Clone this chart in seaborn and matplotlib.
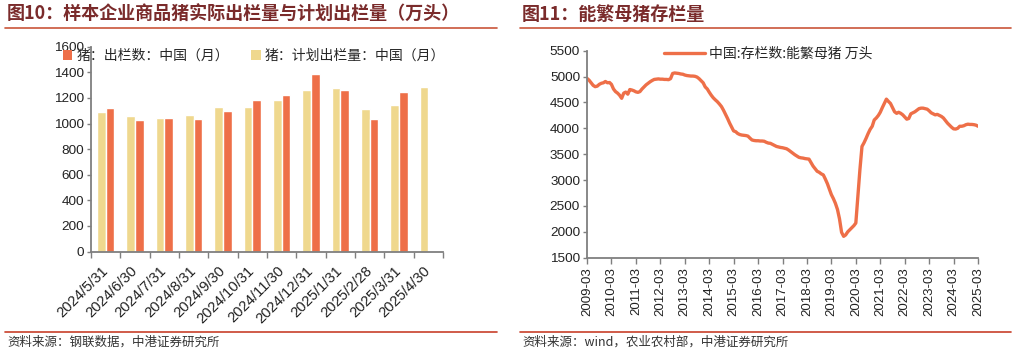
import numpy as np
import pandas as pd
import matplotlib
matplotlib.use('Agg')
import matplotlib.pyplot as plt
import matplotlib.transforms as mtransforms
from matplotlib.lines import Line2D
from matplotlib.patches import Patch
import seaborn as sns

# ---------------- data ----------------
categories = ['2024/5/31', '2024/6/30', '2024/7/31', '2024/8/31', '2024/9/30', '2024/10/31',
              '2024/11/30', '2024/12/31', '2025/1/31', '2025/2/28', '2025/3/31', '2025/4/30']
planned = [1088, 1062, 1041, 1067, 1132, 1132, 1184, 1262, 1278, 1116, 1145, 1288]
actual = [1124, 1026, 1044, 1036, 1098, 1182, 1223, 1385, 1260, 1033, 1247, np.nan]
actual_label = '猪：出栏数：中国（月）'
planned_label = '猪：计划出栏量：中国（月）'
bar_yticks = [0, 200, 400, 600, 800, 1000, 1200, 1400, 1600]

sow_start = '2009-03-01'
sow_end = '2025-03-01'
sow_values = [
    4965, 4930, 4880, 4830, 4805, 4815, 4850, 4870, 4880, 4905,              # 2009 Mar-Dec
    4880, 4885, 4850, 4760, 4710, 4680, 4640, 4580, 4680, 4700, 4660, 4750,  # 2010
    4740, 4725, 4705, 4695, 4710, 4760, 4800, 4840, 4870, 4900, 4925, 4945,  # 2011
    4950, 4955, 4950, 4950, 4945, 4945, 4940, 4960, 5060, 5070, 5065, 5060,  # 2012
    5050, 5045, 5030, 5020, 5015, 5010, 5010, 5005, 4990, 4960, 4920, 4880,  # 2013
    4800, 4760, 4700, 4640, 4590, 4550, 4515, 4470, 4420, 4350, 4270, 4190,  # 2014
    4100, 4020, 3950, 3935, 3900, 3880, 3870, 3865, 3860, 3850, 3810, 3775,  # 2015
    3765, 3760, 3760, 3755, 3755, 3750, 3730, 3715, 3710, 3690, 3670, 3650,  # 2016
    3640, 3630, 3625, 3615, 3605, 3580, 3550, 3520, 3490, 3465, 3440, 3430,  # 2017
    3425, 3415, 3410, 3405, 3340, 3270, 3220, 3170, 3150, 3120, 3100, 3020,  # 2018
    2930, 2820, 2720, 2640, 2550, 2430, 2250, 1990, 1913, 1940, 2000, 2040,  # 2019
    2080, 2120, 2170, 2700, 3200, 3650, 3720, 3806, 3900, 3980, 4040, 4161,  # 2020
    4200, 4250, 4310, 4400, 4480, 4564, 4520, 4480, 4400, 4320, 4290, 4310,  # 2021
    4290, 4260, 4220, 4177, 4190, 4280, 4300, 4320, 4350, 4380, 4390, 4390,  # 2022
    4380, 4370, 4340, 4300, 4280, 4260, 4270, 4250, 4230, 4200, 4150, 4100,  # 2023
    4060, 4020, 3990, 3986, 4000, 4040, 4040, 4050, 4070, 4080, 4075, 4075,  # 2024
    4070, 4060, 4040,                                                        # 2025 Jan-Mar
]
sow_label = '中国:存栏数:能繁母猪 万头'
line_yticks = [1500, 2000, 2500, 3000, 3500, 4000, 4500, 5000, 5500]

title_left = '图10：样本企业商品猪实际出栏量与计划出栏量（万头）'
title_right = '图11：能繁母猪存栏量'
source_left = '资料来源：钢联数据，中港证券研究所'
source_right = '资料来源：wind，农业农村部，中港证券研究所'

# ---------------- style ----------------
sns.set_style('ticks')
plt.rcParams['font.family'] = ['Liberation Sans', 'Noto Sans CJK SC', 'DejaVu Sans']
plt.rcParams['axes.unicode_minus'] = False

ORANGE = '#EE6F48'
YELLOW = '#EFD88E'
SPINE = '#7F7F7F'
TITLE_C = '#7A2B2B'
RULE_C = '#C9553A'
CJK = ['Noto Sans CJK SC', 'DejaVu Sans']

W, H = 1017, 354
fig = plt.figure(figsize=(W / 100, H / 100), dpi=100)

def fx(px):
    return px / W

def fy(py):
    return 1 - py / H

# ---------------- left: bars ----------------
ax1 = fig.add_axes([fx(91), fy(251.6), fx(443 - 91), (251.6 - 46.7) / H])
df = pd.DataFrame({
    'date': categories * 2,
    'series': [planned_label] * len(categories) + [actual_label] * len(categories),
    'value': planned + actual,
})
sns.barplot(data=df, x='date', y='value', hue='series', order=categories,
            hue_order=[planned_label, actual_label], palette=[YELLOW, ORANGE],
            width=0.58, saturation=1, ax=ax1, errorbar=None)
if ax1.get_legend() is not None:
    ax1.get_legend().remove()
ax1.set_xlim(-0.5, len(categories) - 0.5)
ax1.set_ylim(0, 1600)
ax1.set_yticks(bar_yticks)
ax1.set_yticklabels([str(v) for v in bar_yticks], fontsize=9.7, color='#222222')
ax1.set_xlabel('')
ax1.set_ylabel('')
ax1.set_xticks(range(len(categories)))
ax1.set_xticklabels(categories, rotation=45, ha='right', va='center',
                    rotation_mode='anchor', fontsize=10.6, color='#222222')
shift = mtransforms.ScaledTranslation(3 / 100, 0, fig.dpi_scale_trans)
for lbl in ax1.get_xticklabels():
    lbl.set_transform(lbl.get_transform() + shift)
ax1.set_xticks(np.arange(-0.5, len(categories), 1), minor=True)
ax1.tick_params(axis='x', which='major', length=0, pad=12)
ax1.tick_params(axis='x', which='minor', length=4, width=1, color=SPINE, direction='out')
ax1.tick_params(axis='y', length=3, width=1, color=SPINE, direction='out', pad=2)
for s in ['top', 'right']:
    ax1.spines[s].set_visible(False)
for s in ['left', 'bottom']:
    ax1.spines[s].set_color(SPINE)
    ax1.spines[s].set_linewidth(1.3)

h_bar = [Patch(facecolor=ORANGE, edgecolor='none'), Patch(facecolor=YELLOW, edgecolor='none')]
fig.legend(h_bar, [actual_label, planned_label], loc='center left',
           bbox_to_anchor=(fx(50), fy(56)), ncol=2, frameon=False,
           handlelength=0.7, handleheight=0.7, handletextpad=0.3, columnspacing=1.6,
           prop={'family': CJK, 'size': 10})

# ---------------- right: line ----------------
ax2 = fig.add_axes([fx(587), fy(257.7), fx(978 - 587), (257.7 - 50.7) / H])
dates = pd.date_range(sow_start, sow_end, freq='MS')
line_df = pd.DataFrame({'date': dates, 'value': sow_values})
sns.lineplot(data=line_df, x='date', y='value', color=ORANGE, linewidth=2.4, ax=ax2, legend=False)
ax2.set_xlim(pd.Timestamp(sow_start), pd.Timestamp(sow_end))
ax2.set_ylim(1500, 5500)
ax2.set_yticks(line_yticks)
ax2.set_yticklabels([str(v) for v in line_yticks], fontsize=9.7, color='#222222')
xt = pd.date_range(sow_start, sow_end, freq='12MS')
ax2.set_xticks(xt)
ax2.set_xticklabels([d.strftime('%Y-%m') for d in xt], rotation=90, fontsize=9.5, color='#222222')
ax2.set_xlabel('')
ax2.set_ylabel('')
ax2.tick_params(axis='x', length=4, width=1, color=SPINE, direction='out', pad=3)
ax2.tick_params(axis='y', length=3, width=1, color=SPINE, direction='out', pad=2)
for s in ['top', 'right']:
    ax2.spines[s].set_visible(False)
for s in ['left', 'bottom']:
    ax2.spines[s].set_color(SPINE)
    ax2.spines[s].set_linewidth(1.3)

fig.legend([Line2D([0], [0], color=ORANGE, lw=2.4)], [sow_label], loc='center left',
           bbox_to_anchor=(fx(651), fy(54)), frameon=False, handlelength=3.0,
           handletextpad=0.3, prop={'family': CJK, 'size': 10})

# ---------------- titles, rules, sources ----------------
fig.text(fx(7), fy(14), title_left, fontsize=13, fontweight='bold', color=TITLE_C,
         family=CJK, va='center', ha='left')
fig.text(fx(522), fy(14), title_right, fontsize=13, fontweight='bold', color=TITLE_C,
         family=CJK, va='center', ha='left')
for x0, x1 in [(5, 497), (520, 1011)]:
    fig.add_artist(Line2D([fx(x0), fx(x1)], [fy(28), fy(28)], color=RULE_C, lw=1.2))
    fig.add_artist(Line2D([fx(x0), fx(x1)], [fy(331.5), fy(331.5)], color='#C8402A', lw=1.2))
fig.text(fx(7), fy(342), source_left, fontsize=9, color='#333333', family=CJK,
         va='center', ha='left', style='italic')
fig.text(fx(522), fy(342), source_right, fontsize=9, color='#333333', family=CJK,
         va='center', ha='left', style='italic')

fig.savefig('out.png', dpi=100)
